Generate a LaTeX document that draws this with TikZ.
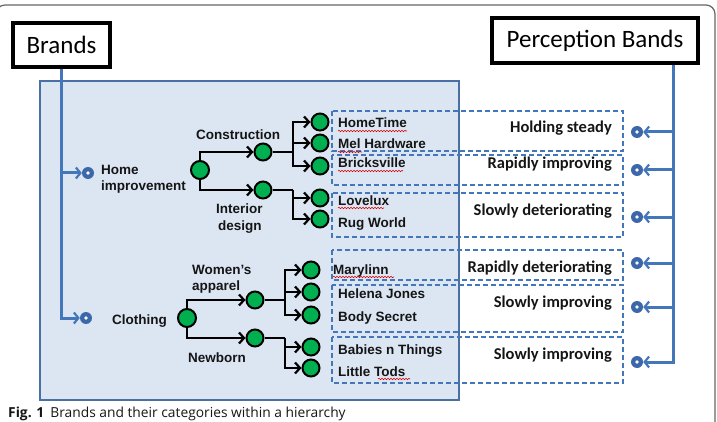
\documentclass[tikz,border=0pt]{standalone}
\usepackage{fontspec}
\setmainfont{Liberation Sans}
\newfontfamily\calib{Carlito}
\newfontfamily\capfont{Open Sans}
\usetikzlibrary{arrows.meta,decorations.pathmorphing}
\definecolor{nodegreen}{HTML}{00B050}
\definecolor{panelfill}{HTML}{DCE6F2}
\definecolor{panelline}{HTML}{4A6FA5}
\definecolor{bandblue}{HTML}{4477BA}
\definecolor{targetblue}{HTML}{3A68A8}
\definecolor{inkgray}{HTML}{151515}
\definecolor{framegray}{HTML}{666666}
\begin{document}
\begin{tikzpicture}[x=1pt,y=-1pt,
  gnode/.style={circle,draw=black,line width=2pt,fill=nodegreen,minimum size=17pt,inner sep=0pt},
  rootnode/.style={gnode,minimum size=18pt},
  target/.style={circle,fill=targetblue,minimum size=12pt,inner sep=0pt,
    path picture={\fill[white] (path picture bounding box.center) circle (1.9pt);}},
  lbl/.style={font=\bfseries\fontsize{13.5}{16}\selectfont,text=inkgray,inner sep=0pt,anchor=base west},
  band/.style={font=\calib\bfseries\fontsize{16.5}{19}\selectfont,text=inkgray,inner sep=0pt,anchor=base east},
  titlebox/.style={draw=black,line width=3.8pt,fill=white,font=\calib\fontsize{25}{28}\selectfont,inner sep=0pt},
  tree/.style={draw=black,line width=2.4pt},
  treearrow/.style={tree,-{Straight Barb[length=5pt,width=11pt,line width=2.2pt]}},
  bus/.style={draw=bandblue,line width=3pt},
  busarrow/.style={bus,-{Straight Barb[length=4.5pt,width=11pt,line width=2.2pt]}},
  dashbox/.style={draw=bandblue,line width=2pt,dash pattern=on 5pt off 3pt},
  squig/.style={draw=red!85!black,line width=0.6pt,decorate,decoration={snake,amplitude=0.7pt,segment length=3pt}}
]
\useasboundingbox (0,0) rectangle (717,422);

% page frame
\begin{scope}
  \clip (0,0) rectangle (717,422);
  \draw[framegray,line width=1.2pt,rounded corners=9pt] (-4,440) -- (-4,5) -- (715,5) -- (715,440);
\end{scope}

% category panel
\draw[fill=panelfill,draw=panelline,line width=2.2pt] (40,81) rectangle (459,400);

% perception band frames
\draw[dashbox] (332,111) rectangle (623,151);
\draw[dashbox] (332,155) rectangle (623,185);
\draw[dashbox] (332,193) rectangle (623,237);
\draw[dashbox] (332,250) rectangle (623,280);
\draw[dashbox] (332,285) rectangle (623,332);
\draw[dashbox] (332,337) rectangle (623,383);

% title boxes
\node[titlebox,minimum width=97pt,minimum height=44pt] (brands) at (61.5,45) {Brands};
\node[titlebox,minimum width=206pt,minimum height=45pt] (pbands) at (595,40.5) {Perception Bands};

% brand entry points
\node[target] (homeT) at (88,173) {};
\node[target] (clothT) at (86,318) {};
\coordinate (bj) at (brands.south |- homeT);
\draw[bus] (brands.south) -- (bj);
\draw[busarrow] (bj) |- (clothT.west);
\draw[busarrow] (bj) -- (homeT.west);

% perception entry points
\node[target] (p1) at (637,132) {};
\node[target] (p2) at (637,170) {};
\node[target] (p3) at (637,217) {};
\node[target] (p4) at (637,263) {};
\node[target] (p5) at (637,307) {};
\node[target] (p6) at (637,362) {};
\coordinate (px) at (673,0);
\draw[bus] (pbands.south -| px) -- (px |- p1);
\draw[busarrow] (px |- p1) |- (p6.east);
\foreach \t in {p1,p2,p3,p4,p5}
  \draw[busarrow] (px |- \t) -- (\t.east);

% home improvement tree
\node[rootnode] (hr) at (200,170) {};
\node[gnode] (con) at (263,152) {};
\node[gnode] (inte) at (263,190) {};
\node[gnode] (l1) at (320,122) {};
\node[gnode] (l2) at (320,143) {};
\node[gnode] (l3) at (320,166) {};
\node[gnode] (l4) at (320,198) {};
\node[gnode] (l5) at (320,219) {};
\draw[treearrow] (hr.north) |- (con.west);
\draw[treearrow] (hr.south) |- (inte.west);
\coordinate (cb) at (293,152);
\coordinate (ib) at (293,190);
\draw[tree] (con.east) -- (cb);
\draw[tree] (inte.east) -- (ib);
\foreach \t in {l1,l2,l3} \draw[treearrow] (cb) |- (\t.west);
\foreach \t in {l4,l5} \draw[treearrow] (ib) |- (\t.west);

% clothing tree
\node[rootnode] (cr) at (187,318) {};
\node[gnode] (wa) at (255,300) {};
\node[gnode] (nb) at (255,338) {};
\node[gnode] (m1) at (311,270) {};
\node[gnode] (m2) at (311,292) {};
\node[gnode] (m3) at (311,315) {};
\node[gnode] (m4) at (311,347) {};
\node[gnode] (m5) at (311,368) {};
\draw[treearrow] (cr.north) |- (wa.west);
\draw[treearrow] (cr.south) |- (nb.west);
\coordinate (wb) at (285,300);
\coordinate (nbb) at (285,338);
\draw[tree] (wa.east) -- (wb);
\draw[tree] (nb.east) -- (nbb);
\foreach \t in {m1,m2,m3} \draw[treearrow] (wb) |- (\t.west);
\foreach \t in {m4,m5} \draw[treearrow] (nbb) |- (\t.west);

% category labels
\node[lbl] (tHome) at (101,175) {Home};
\node[lbl] (tImpr) at (101,190) {improvement};
\node[lbl] (tCons) at (196,140) {Construction};
\node[lbl] (tInt) at (216,213) {Interior};
\node[lbl] (tDes) at (218,230) {design};
\node[lbl] (tWom) at (192,274) {Women’s};
\node[lbl] (tApp) at (192,290) {apparel};
\node[lbl] (tClo) at (112,324) {Clothing};
\node[lbl] (tNew) at (188,362) {Newborn};

% brand names
\node[lbl] (b1) at (338,128) {HomeTime};
\node[lbl] (b2) at (338,149) {Mel Hardware};
\node[lbl] (b3) at (338,168) {Bricksville};
\node[lbl] (b4) at (338,205) {Lovelux};
\node[lbl] (b5) at (338,227) {Rug World};
\node[lbl] (b6) at (333,274) {Marylinn};
\node[lbl] (b7) at (338,298) {Helena Jones};
\node[lbl] (b8) at (338,321) {Body Secret};
\node[lbl] (b9) at (338,354) {Babies n Things};
\node[lbl] (b10) at (338,376) {Little Tods};

% spell-check marks under brand names
\draw[squig] (338,131) -- (407,131);
\draw[squig] (338,152) -- (362,152);
\draw[squig] (338,171) -- (403,171);
\draw[squig] (338,208) -- (384,208);
\draw[squig] (333,277) -- (394,277);
\draw[squig] (378,379) -- (410,379);

% band labels
\node[band] (s1) at (612,133) {Holding steady};
\node[band] (s2) at (612,169) {Rapidly improving};
\node[band] (s3) at (612,215) {Slowly deteriorating};
\node[band] (s4) at (612,272) {Rapidly deteriorating};
\node[band] (s5) at (612,307) {Slowly improving};
\node[band] (s6) at (612,359) {Slowly improving};

% caption
\node[anchor=base west,inner sep=0pt,font=\capfont\fontsize{13.8}{15}\selectfont,text=inkgray] (cap) at (8,417)
  {\textbf{Fig. 1}\hspace{6pt}Brands and their categories within a hierarchy};
\end{tikzpicture}
\end{document}
